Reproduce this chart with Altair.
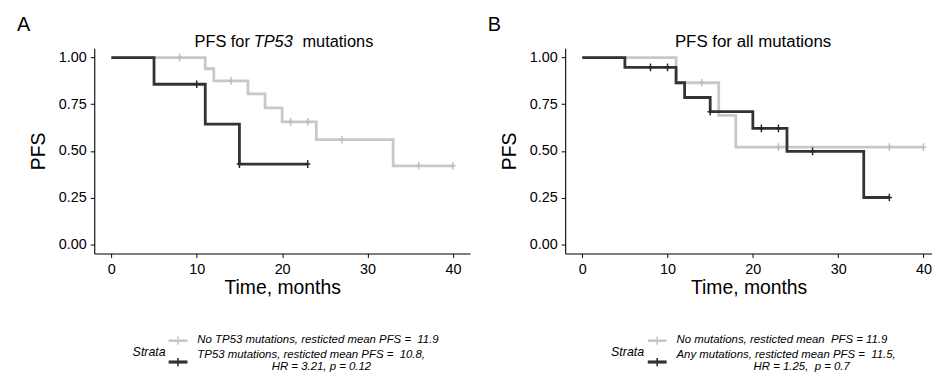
import altair as alt
import pandas as pd

FONT = "Liberation Sans"
GRAY = "#c8c8c8"
DARK = "#333333"

# ---- Panel A: TP53 ----
A_no_time = [0, 11, 12, 16, 18, 20, 24, 33, 40]
A_no_pfs = [1.0, 0.94, 0.875, 0.805, 0.73, 0.655, 0.56, 0.42, 0.42]
A_no_cens_time = [8, 14, 21, 23, 27, 36, 40]
A_no_cens_pfs = [1.0, 0.875, 0.655, 0.655, 0.56, 0.42, 0.42]
A_mu_time = [0, 5, 11, 15, 23]
A_mu_pfs = [1.0, 0.857, 0.643, 0.429, 0.429]
A_mu_cens_time = [10, 15, 23]
A_mu_cens_pfs = [0.857, 0.429, 0.429]

# ---- Panel B: all mutations ----
B_no_time = [0, 11, 16, 18, 40]
B_no_pfs = [1.0, 0.865, 0.69, 0.52, 0.52]
B_no_cens_time = [14, 23, 36, 40]
B_no_cens_pfs = [0.865, 0.52, 0.52, 0.52]
B_mu_time = [0, 5, 11, 12, 15, 20, 24, 33, 36]
B_mu_pfs = [1.0, 0.947, 0.865, 0.786, 0.71, 0.62, 0.497, 0.25, 0.25]
B_mu_cens_time = [8, 10, 15, 21, 23, 27, 36]
B_mu_cens_pfs = [0.947, 0.947, 0.71, 0.62, 0.62, 0.497, 0.25]

x_ticks = [0, 10, 20, 30, 40]
y_ticks = [0, 0.25, 0.5, 0.75, 1.0]

NB = "\u00a0"
A_legend = ["No TP53 mutations, resticted mean PFS =" + NB + " 11.9",
            "TP53 mutations, resticted mean PFS =" + NB + " 10.8,",
            "HR = 3.21, p = 0.12"]
B_legend = ["No mutations, resticted mean" + NB + " PFS = 11.9",
            "Any mutations, resticted mean PFS =" + NB + " 11.5,",
            "HR = 1.25," + NB + " p = 0.7"]

CROSS = "M0,-1V1M-0.7,0H0.7"


def df(t, s):
    return pd.DataFrame({"time": t, "pfs": s})


def txt(s, x, y, size=11.5, italic=False, align="left", baseline="middle"):
    return alt.Chart(pd.DataFrame({"t": [s]})).mark_text(
        font=FONT, fontSize=size, fontStyle="italic" if italic else "normal",
        align=align, baseline=baseline, color="#000000"
    ).encode(x=alt.value(x), y=alt.value(y), text="t:N")


def legend_glyph(x0, y, color, width):
    line = alt.Chart(pd.DataFrame({"a": [0]})).mark_rule(
        color=color, strokeWidth=width
    ).encode(x=alt.value(x0), x2=alt.value(x0 + 19), y=alt.value(y))
    tick = alt.Chart(pd.DataFrame({"a": [0]})).mark_point(
        shape=CROSS, filled=False, color=color, strokeWidth=1.6, size=70, opacity=1
    ).encode(x=alt.value(x0 + 9.5), y=alt.value(y))
    return [line, tick]


def panel(no_t, no_s, no_ct, no_cs, mu_t, mu_s, mu_ct, mu_cs,
          width, xmax, title_layers, letter, leg, lo):
    xs = alt.Scale(domain=[-2, xmax], nice=False, zero=False)
    ys = alt.Scale(domain=[-0.05, 1.05], nice=False, zero=False)
    X = alt.X("time:Q", scale=xs,
              axis=alt.Axis(values=x_ticks, title="Time, months", titlePadding=3))
    Y = alt.Y("pfs:Q", scale=ys,
              axis=alt.Axis(values=y_ticks, format=".2f", title="PFS", titlePadding=10))
    g_line = alt.Chart(df(no_t, no_s)).mark_line(
        interpolate="step-after", color=GRAY, strokeWidth=2.8).encode(x=X, y=Y)
    g_cens = alt.Chart(df(no_ct, no_cs)).mark_point(
        shape=CROSS, filled=False, color="#bdbdbd", strokeWidth=1.5, size=60, opacity=1
    ).encode(x=X, y=Y)
    d_line = alt.Chart(df(mu_t, mu_s)).mark_line(
        interpolate="step-after", color=DARK, strokeWidth=2.8).encode(x=X, y=Y)
    d_cens = alt.Chart(df(mu_ct, mu_cs)).mark_point(
        shape=CROSS, filled=False, color="#2a2a2a", strokeWidth=1.5, size=60, opacity=1
    ).encode(x=X, y=Y)

    strata_x, sym_x, lab_x, l3_x = lo
    layers = [g_line, g_cens, d_line, d_cens]
    layers += title_layers
    layers.append(txt(letter, -78, -17.5, size=20, baseline="alphabetic"))
    layers.append(txt("Strata", strata_x, 306.5, size=12.5, italic=True))
    layers += legend_glyph(sym_x, 295, GRAY, 2.6)
    layers += legend_glyph(sym_x, 316.5, DARK, 3.2)
    layers.append(txt(leg[0], lab_x, 294.5, italic=True))
    layers.append(txt(leg[1], lab_x, 309.8, italic=True))
    layers.append(txt(leg[2], l3_x, 322.0, italic=True))
    return alt.layer(*layers).properties(width=width, height=207)


title_A = [
    txt("PFS for", 157, -1.5, size=16.5, align="right", baseline="alphabetic"),
    txt("TP53", 180.5, -1.5, size=16.5, italic=True, align="center", baseline="alphabetic"),
    txt("mutations", 210, -1.5, size=16.5, align="left", baseline="alphabetic"),
]
title_B = [
    txt("PFS for all mutations", 189.5, -1.5, size=17, align="center", baseline="alphabetic"),
]

pA = panel(A_no_time, A_no_pfs, A_no_cens_time, A_no_cens_pfs,
           A_mu_time, A_mu_pfs, A_mu_cens_time, A_mu_cens_pfs,
           379, 42, title_A, "A", A_legend, (38.7, 75, 104, 179))
pB = panel(B_no_time, B_no_pfs, B_no_cens_time, B_no_cens_pfs,
           B_mu_time, B_mu_pfs, B_mu_cens_time, B_mu_cens_pfs,
           370, 41, title_B, "B", B_legend, (46.3, 83.3, 112.3, 190))

chart = alt.hconcat(pA, pB, spacing=18).properties(
    padding={"left": 9, "top": 5, "right": 0, "bottom": 0}
).configure_view(stroke=None).configure_axis(
    grid=False, domainColor="#000000", domainWidth=1.1, tickColor="#000000",
    tickSize=4, labelColor="#000000", labelFont=FONT, labelFontSize=14.5,
    labelPadding=4, titleFont=FONT, titleFontSize=19.5, titleFontWeight="normal",
    titleColor="#000000"
).configure_axisX(labelPadding=5)

chart.save("out.html", embed_options={"renderer": "svg", "actions": False})
